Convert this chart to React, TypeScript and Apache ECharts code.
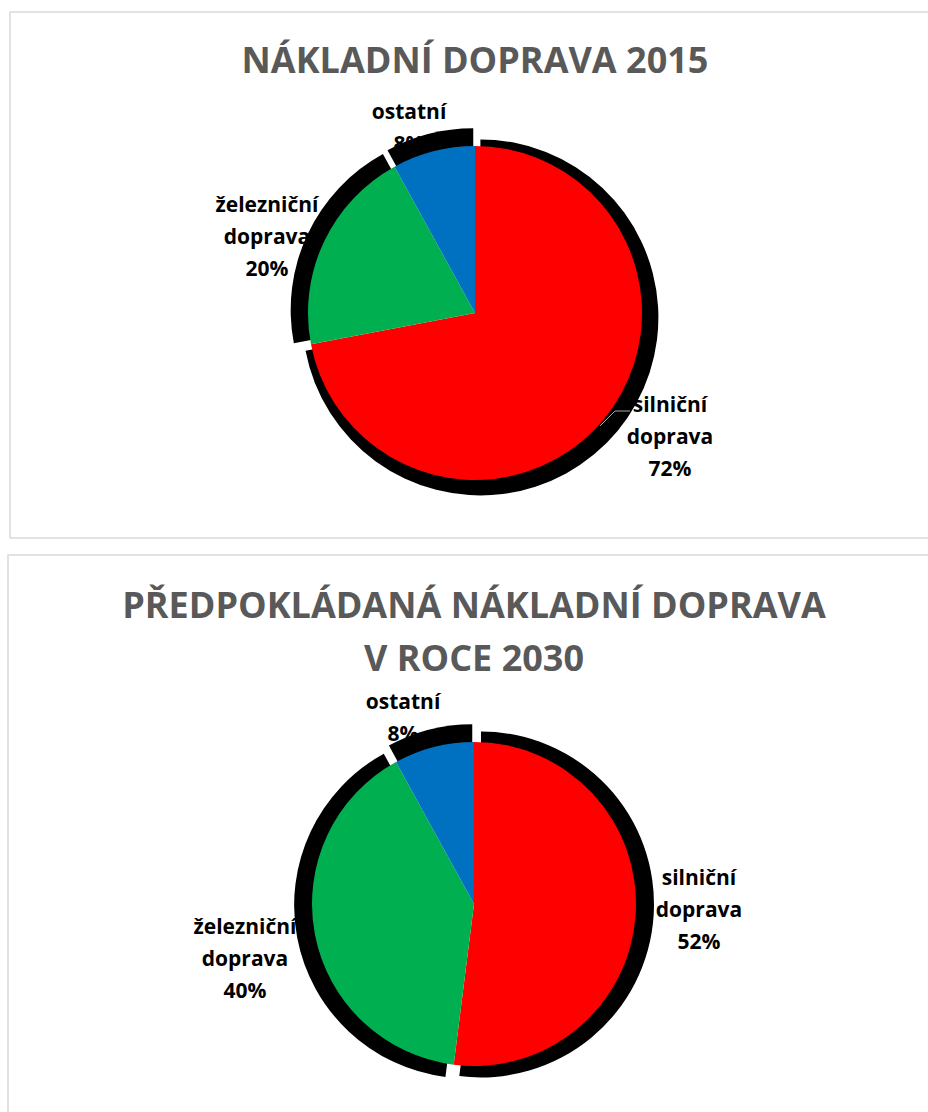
import React, { useEffect, useRef } from 'react';
import * as echarts from 'echarts';

// ---- data ----
const categories = ['silniční doprava', 'železniční doprava', 'ostatní'];
const values2015 = [72, 20, 8];
const values2030 = [52, 40, 8];
const sliceColors = ['#FF0000', '#00B050', '#0070C0'];
const title2015 = ['NÁKLADNÍ DOPRAVA 2015'];
const title2030 = ['PŘEDPOKLÁDANÁ NÁKLADNÍ DOPRAVA', 'V ROCE 2030'];

// ---- layout ----
const labelPos2015 = [[670, 436], [267, 236], [409, 127]];
const labelPos2030 = [[699, 909], [245, 958], [403, 717]];
const FONT = '"Open Sans", "Noto Sans", sans-serif';

function makePie(values: number[], center: number[], radius: number, labelPos: number[][], leader: boolean) {
  const shadow = {
    type: 'pie',
    silent: true,
    center,
    radius: radius + 11,
    startAngle: 90,
    clockwise: true,
    selectedMode: 'multiple',
    selectedOffset: 7,
    label: { show: false },
    labelLine: { show: false },
    itemStyle: { color: '#000000', borderWidth: 0 },
    select: { itemStyle: { color: '#000000' } },
    emphasis: { disabled: true },
    z: 1,
    data: values.map((v, i) => ({ name: categories[i], value: v, selected: true })),
  };
  const main = {
    type: 'pie',
    silent: true,
    center,
    radius,
    startAngle: 90,
    clockwise: true,
    avoidLabelOverlap: false,
    emphasis: { disabled: true },
    z: 3,
    label: {
      show: true,
      position: 'outside',
      formatter: (p: any) => p.name.replace(' ', '\n') + '\n' + Math.round(p.percent) + '%',
      color: '#000000',
      fontFamily: FONT,
      fontWeight: 'bold',
      fontSize: 21,
      lineHeight: 32,
      align: 'center',
    },
    labelLine: { show: true, lineStyle: { color: '#a6a6a6', width: 1 } },
    labelLayout: (params: any) => {
      const i = params.dataIndex;
      const res: any = { x: labelPos[i][0], y: labelPos[i][1], align: 'center', verticalAlign: 'middle' };
      if (leader && i === 0) {
        res.labelLinePoints = [[600, 426], [615, 411], [630, 411]];
      }
      return res;
    },
    data: values.map((v, i) => ({
      name: categories[i],
      value: v,
      itemStyle: { color: sliceColors[i] },
      labelLine: { show: leader && i === 0 },
    })),
  };
  return [shadow, main];
}

export default function App() {
  const ref = useRef<HTMLDivElement>(null);
  useEffect(() => {
    if (!ref.current) return;
    const chart = echarts.init(ref.current, null, { renderer: 'svg' });
    const titleStyle = { font: `bold 36px ${FONT}`, fill: '#595959', textAlign: 'center', textVerticalAlign: 'middle' };
    const option: any = {
      animation: false,
      backgroundColor: '#ffffff',
      graphic: [
        { type: 'rect', z: -10, shape: { x: 10, y: 12, width: 940, height: 526 }, style: { fill: 'none', stroke: '#d9d9d9', lineWidth: 1.5 } },
        { type: 'rect', z: -10, shape: { x: 8, y: 555, width: 940, height: 580 }, style: { fill: 'none', stroke: '#d9d9d9', lineWidth: 1.5 } },
        { type: 'text', x: 475, y: 59, style: { ...titleStyle, text: title2015[0] } },
        { type: 'text', x: 474, y: 604, style: { ...titleStyle, text: title2030[0] } },
        { type: 'text', x: 474, y: 657, style: { ...titleStyle, text: title2030[1] } },
      ],
      series: [
        ...makePie(values2015, [475, 313], 167, labelPos2015, true),
        ...makePie(values2030, [474, 904], 162, labelPos2030, false),
      ],
    };
    chart.setOption(option);
    return () => chart.dispose();
  }, []);
  return <div ref={ref} style={{ position: 'absolute', left: 0, top: 0, width: 928, height: 1112 }} />;
}
